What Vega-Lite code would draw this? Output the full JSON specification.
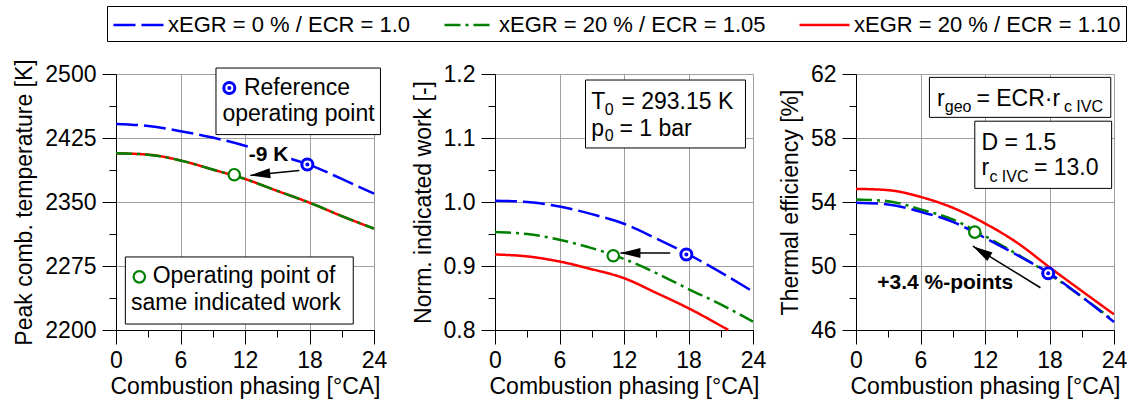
{
  "$schema": "https://vega.github.io/schema/vega-lite/v6.json",
  "padding": {"left": 13, "top": 5, "right": 5, "bottom": 5},
  "config": {
    "view": {"stroke": null},
    "font": "Liberation Sans",
    "axis": {
      "labelFont": "Liberation Sans", "labelFontSize": 23, "labelColor": "black",
      "titleFont": "Liberation Sans", "titleFontSize": 23, "titleFontWeight": "normal", "titleColor": "black",
      "domainColor": "black", "tickColor": "black", "gridColor": "#a0a0a0", "gridWidth": 1,
      "labelFlush": false, "labelOverlap": false, "labelBound": false, "labelPadding": 5, "titlePadding": 3
    },
    "axisY": {"titlePadding": 8, "labelPadding": 6},
    "legend": {
      "orient": "none", "legendX": -9, "legendY": -68, "direction": "horizontal", "columns": 3,
      "labelFont": "Liberation Sans", "labelFontSize": 22, "labelColor": "black", "labelLimit": 400,
      "strokeColor": "black", "padding": 5, "columnPadding": 28, "rowPadding": 0,
      "symbolType": "M-1,0L3,0", "symbolSize": 625, "symbolStrokeWidth": 2.5, "labelOffset": 28
    }
  },
  "datasets": {
    "curves": [
      {"p": 1, "s": "R", "x": 0, "y": 2407}, {"p": 1, "s": "R", "x": 3, "y": 2405.5}, {"p": 1, "s": "R", "x": 6, "y": 2398.7},
      {"p": 1, "s": "R", "x": 9, "y": 2388}, {"p": 1, "s": "R", "x": 12, "y": 2377}, {"p": 1, "s": "R", "x": 15, "y": 2363},
      {"p": 1, "s": "R", "x": 18, "y": 2349.2}, {"p": 1, "s": "R", "x": 21, "y": 2333.5}, {"p": 1, "s": "R", "x": 24, "y": 2318.8},
      {"p": 2, "s": "R", "x": 0, "y": 0.918}, {"p": 2, "s": "R", "x": 3, "y": 0.915}, {"p": 2, "s": "R", "x": 6, "y": 0.907},
      {"p": 2, "s": "R", "x": 9, "y": 0.895}, {"p": 2, "s": "R", "x": 12, "y": 0.881}, {"p": 2, "s": "R", "x": 15, "y": 0.858},
      {"p": 2, "s": "R", "x": 18, "y": 0.834}, {"p": 2, "s": "R", "x": 21.7, "y": 0.8},
      {"p": 3, "s": "R", "x": 0, "y": 54.82}, {"p": 3, "s": "R", "x": 3, "y": 54.74}, {"p": 3, "s": "R", "x": 6, "y": 54.32},
      {"p": 3, "s": "R", "x": 9, "y": 53.64}, {"p": 3, "s": "R", "x": 12, "y": 52.66}, {"p": 3, "s": "R", "x": 15, "y": 51.45},
      {"p": 3, "s": "R", "x": 18, "y": 49.92}, {"p": 3, "s": "R", "x": 21, "y": 48.44}, {"p": 3, "s": "R", "x": 24, "y": 46.98},
      {"p": 1, "s": "G", "x": 0, "y": 2407}, {"p": 1, "s": "G", "x": 3, "y": 2405.5}, {"p": 1, "s": "G", "x": 6, "y": 2398.7},
      {"p": 1, "s": "G", "x": 9, "y": 2388}, {"p": 1, "s": "G", "x": 12, "y": 2377}, {"p": 1, "s": "G", "x": 15, "y": 2363},
      {"p": 1, "s": "G", "x": 18, "y": 2349.2}, {"p": 1, "s": "G", "x": 21, "y": 2333.5}, {"p": 1, "s": "G", "x": 24, "y": 2318.8},
      {"p": 2, "s": "G", "x": 0, "y": 0.953}, {"p": 2, "s": "G", "x": 3, "y": 0.95}, {"p": 2, "s": "G", "x": 6, "y": 0.941},
      {"p": 2, "s": "G", "x": 9, "y": 0.928}, {"p": 2, "s": "G", "x": 12, "y": 0.911}, {"p": 2, "s": "G", "x": 15, "y": 0.889},
      {"p": 2, "s": "G", "x": 18, "y": 0.864}, {"p": 2, "s": "G", "x": 21, "y": 0.84}, {"p": 2, "s": "G", "x": 24, "y": 0.813},
      {"p": 3, "s": "G", "x": 0, "y": 54.16}, {"p": 3, "s": "G", "x": 3, "y": 54.05}, {"p": 3, "s": "G", "x": 6, "y": 53.54},
      {"p": 3, "s": "G", "x": 9, "y": 52.91}, {"p": 3, "s": "G", "x": 12, "y": 51.87}, {"p": 3, "s": "G", "x": 15, "y": 50.73},
      {"p": 3, "s": "G", "x": 18, "y": 49.48}, {"p": 3, "s": "G", "x": 21, "y": 48.08}, {"p": 3, "s": "G", "x": 24, "y": 46.56},
      {"p": 1, "s": "B", "x": 0, "y": 2441.5}, {"p": 1, "s": "B", "x": 3, "y": 2439}, {"p": 1, "s": "B", "x": 6, "y": 2433},
      {"p": 1, "s": "B", "x": 9, "y": 2425.5}, {"p": 1, "s": "B", "x": 12, "y": 2416}, {"p": 1, "s": "B", "x": 15, "y": 2405},
      {"p": 1, "s": "B", "x": 18, "y": 2393.5}, {"p": 1, "s": "B", "x": 21, "y": 2377}, {"p": 1, "s": "B", "x": 24, "y": 2359.7},
      {"p": 2, "s": "B", "x": 0, "y": 1.002}, {"p": 2, "s": "B", "x": 3, "y": 1.0}, {"p": 2, "s": "B", "x": 6, "y": 0.993},
      {"p": 2, "s": "B", "x": 9, "y": 0.981}, {"p": 2, "s": "B", "x": 12, "y": 0.966}, {"p": 2, "s": "B", "x": 15, "y": 0.943},
      {"p": 2, "s": "B", "x": 18, "y": 0.918}, {"p": 2, "s": "B", "x": 21, "y": 0.89}, {"p": 2, "s": "B", "x": 24, "y": 0.86},
      {"p": 3, "s": "B", "x": 0, "y": 53.95}, {"p": 3, "s": "B", "x": 3, "y": 53.85}, {"p": 3, "s": "B", "x": 6, "y": 53.39},
      {"p": 3, "s": "B", "x": 9, "y": 52.76}, {"p": 3, "s": "B", "x": 12, "y": 51.76}, {"p": 3, "s": "B", "x": 15, "y": 50.68},
      {"p": 3, "s": "B", "x": 18, "y": 49.54}, {"p": 3, "s": "B", "x": 21, "y": 48.08}, {"p": 3, "s": "B", "x": 24, "y": 46.5}
    ],
    "points": [
      {"p": 1, "k": "ref", "x": 17.8, "y": 2394}, {"p": 1, "k": "op", "x": 11.0, "y": 2382},
      {"p": 1, "k": "ref", "x": 10.54, "y": 2483.6}, {"p": 1, "k": "op", "x": 2.17, "y": 2262.3},
      {"p": 2, "k": "ref", "x": 17.8, "y": 0.918}, {"p": 2, "k": "op", "x": 11.0, "y": 0.916},
      {"p": 3, "k": "ref", "x": 17.88, "y": 49.54}, {"p": 3, "k": "op", "x": 11.05, "y": 52.12}
    ],
    "boxes": [
      {"p": 1, "k": "box", "x": 9.3, "x2": 24.6, "y": 2507, "y2": 2429},
      {"p": 1, "k": "box", "x": 0.87, "x2": 22.07, "y": 2285.6, "y2": 2207},
      {"p": 1, "k": "bg", "x": 12.3, "x2": 16.3, "y": 2415, "y2": 2396},
      {"p": 2, "k": "box", "x": 8.42, "x2": 23.3, "y": 1.1906, "y2": 1.0844},
      {"p": 3, "k": "box", "x": 6.83, "x2": 23.7, "y": 61.79, "y2": 59.29},
      {"p": 3, "k": "box", "x": 11.05, "x2": 23.78, "y": 59.05, "y2": 54.85}
    ],
    "arrows": [
      {"p": 1, "x": 17.05, "y": 2387, "x2": 12.49, "y2": 2381.2},
      {"p": 2, "x": 16.3, "y": 0.9203, "x2": 11.67, "y2": 0.9203},
      {"p": 3, "x": 17.16, "y": 48.64, "x2": 10.87, "y2": 51.24}
    ],
    "texts": [
      {"p": 1, "k": "n", "x": 11.9, "y": 2475.1, "t": "Reference"},
      {"p": 1, "k": "n", "x": 9.9, "y": 2444.7, "t": "operating point"},
      {"p": 1, "k": "n", "x": 3.41, "y": 2254.5, "t": "Operating point of"},
      {"p": 1, "k": "n", "x": 1.4, "y": 2223.4, "t": "same indicated work"},
      {"p": 1, "k": "b", "x": 14.2, "y": 2397.9, "t": "-9 K"},
      {"p": 2, "k": "n", "x": 8.95, "y": 1.145, "t": "T"},
      {"p": 2, "k": "s", "x": 10.22, "y": 1.1364, "t": "0"},
      {"p": 2, "k": "n", "x": 11.76, "y": 1.145, "t": "= 293.15 K"},
      {"p": 2, "k": "n", "x": 8.95, "y": 1.1036, "t": "p"},
      {"p": 2, "k": "s", "x": 10.22, "y": 1.0947, "t": "0"},
      {"p": 2, "k": "n", "x": 11.57, "y": 1.1036, "t": "= 1 bar"},
      {"p": 3, "k": "n", "x": 7.54, "y": 59.98, "t": "r"},
      {"p": 3, "k": "s", "x": 8.26, "y": 59.61, "t": "geo"},
      {"p": 3, "k": "n", "x": 11.2, "y": 59.98, "t": "= ECR·r"},
      {"p": 3, "k": "s", "x": 19.34, "y": 59.61, "t": "c IVC"},
      {"p": 3, "k": "n", "x": 11.67, "y": 57.22, "t": "D = 1.5"},
      {"p": 3, "k": "n", "x": 11.67, "y": 55.68, "t": "r"},
      {"p": 3, "k": "s", "x": 12.41, "y": 55.26, "t": "c IVC"},
      {"p": 3, "k": "n", "x": 16.55, "y": 55.68, "t": "= 13.0"},
      {"p": 3, "k": "b", "x": 8.3, "y": 48.54, "t": "+3.4 %-points"}
    ]
  },
  "resolve": {"scale": {"color": "shared", "strokeDash": "shared"}, "legend": {"color": "shared", "strokeDash": "shared"}},
  "spacing": 25,
  "hconcat": [
    {
      "width": 258, "height": 256,
      "encoding": {
        "x": {"field": "x", "type": "quantitative", "scale": {"domain": [0, 24], "nice": false, "zero": false},
          "axis": {"title": "Combustion phasing [°CA]", "values": [0, 3, 6, 9, 12, 15, 18, 21, 24],
            "labelExpr": "datum.value % 6 == 0 ? datum.label : ''",
            "gridOpacity": {"condition": {"test": "datum.value % 6 != 0", "value": 0}, "value": 1},
            "tickSize": {"condition": {"test": "datum.value % 6 != 0", "value": 7}, "value": 14}}},
        "y": {"field": "y", "type": "quantitative", "scale": {"domain": [2200, 2500], "nice": false, "zero": false},
          "axis": {"title": "Peak comb. temperature [K]", "format": "d", "values": [2200, 2237.5, 2275, 2312.5, 2350, 2387.5, 2425, 2462.5, 2500],
            "labelExpr": "(datum.value - 2200) % 75 == 0 ? datum.label : ''",
            "gridOpacity": {"condition": {"test": "(datum.value - 2200) % 75 != 0", "value": 0}, "value": 1},
            "tickSize": {"condition": {"test": "(datum.value - 2200) % 75 != 0", "value": 7}, "value": 14}}}
      },
      "layer": [
        {"data": {"name": "boxes"}, "transform": [{"filter": "datum.p == 1 && datum.k == 'box'"}],
          "mark": {"type": "rect", "fill": "white", "stroke": "black", "strokeWidth": 1},
          "encoding": {"x2": {"field": "x2"}, "y2": {"field": "y2"}}},
        {"data": {"name": "curves"}, "transform": [{"filter": "datum.p == 1"}],
          "mark": {"type": "line", "strokeWidth": 2.5, "interpolate": "monotone"},
          "encoding": {
            "color": {"field": "s", "type": "nominal", "title": null, "scale": {"domain": ["B", "G", "R"], "range": ["#0000ff", "#008000", "#ff0000"]},
              "legend": {"labelExpr": "datum.value == 'B' ? 'xEGR = 0 % / ECR = 1.0' : datum.value == 'G' ? 'xEGR = 20 % / ECR = 1.05' : 'xEGR = 20 % / ECR = 1.10'"}},
            "strokeDash": {"field": "s", "type": "nominal", "title": null, "scale": {"domain": ["B", "G", "R"], "range": [[22, 6], [16, 5, 3, 5], [1, 0]]},
              "legend": {"labelExpr": "datum.value == 'B' ? 'xEGR = 0 % / ECR = 1.0' : datum.value == 'G' ? 'xEGR = 20 % / ECR = 1.05' : 'xEGR = 20 % / ECR = 1.10'"}}
          }},
        {"data": {"name": "boxes"}, "transform": [{"filter": "datum.p == 1 && datum.k == 'bg'"}],
          "mark": {"type": "rect", "fill": "white", "strokeWidth": 0},
          "encoding": {"x2": {"field": "x2"}, "y2": {"field": "y2"}}},
        {"data": {"name": "arrows"}, "transform": [{"filter": "datum.p == 1"}],
          "mark": {"type": "rule", "color": "black", "strokeWidth": 1.5},
          "encoding": {"x2": {"field": "x2"}, "y2": {"field": "y2"}}},
        {"data": {"name": "arrows"}, "transform": [{"filter": "datum.p == 1"}],
          "mark": {"type": "point", "shape": "M0,0L2,-0.5L2,0.5Z", "size": 400, "filled": true, "fill": "black", "strokeWidth": 0, "opacity": 1, "angle": 353.7},
          "encoding": {"x": {"field": "x2", "type": "quantitative"}, "y": {"field": "y2", "type": "quantitative"}}},
        {"data": {"name": "points"}, "transform": [{"filter": "datum.p == 1 && datum.k == 'op'"}],
          "mark": {"type": "point", "shape": "circle", "size": 130, "filled": true, "fill": "white", "stroke": "#008000", "strokeWidth": 2.2, "opacity": 1},
          "encoding": {}},
        {"data": {"name": "points"}, "transform": [{"filter": "datum.p == 1 && datum.k == 'ref'"}],
          "mark": {"type": "point", "shape": "circle", "size": 121, "filled": true, "fill": "white", "stroke": "#0000ff", "strokeWidth": 3, "opacity": 1},
          "encoding": {}},
        {"data": {"name": "points"}, "transform": [{"filter": "datum.p == 1 && datum.k == 'ref'"}],
          "mark": {"type": "point", "shape": "circle", "size": 16, "filled": true, "fill": "#0000ff", "strokeWidth": 0, "opacity": 1},
          "encoding": {}},
        {"data": {"name": "texts"}, "transform": [{"filter": "datum.p == 1 && datum.k == 'n'"}],
          "mark": {"type": "text", "font": "Liberation Sans", "fontSize": 23, "align": "left", "baseline": "alphabetic", "color": "black"},
          "encoding": {"text": {"field": "t"}}},
        {"data": {"name": "texts"}, "transform": [{"filter": "datum.p == 1 && datum.k == 'b'"}],
          "mark": {"type": "text", "font": "Liberation Sans", "fontSize": 21, "fontWeight": "bold", "align": "center", "baseline": "alphabetic", "color": "black"},
          "encoding": {"text": {"field": "t"}}}
      ]
    },
    {
      "spacing": 13,
      "resolve": {"scale": {"color": "shared", "strokeDash": "shared"}, "legend": {"color": "shared", "strokeDash": "shared"}},
      "hconcat": [
        {
          "width": 258, "height": 256,
          "encoding": {
            "x": {"field": "x", "type": "quantitative", "scale": {"domain": [0, 24], "nice": false, "zero": false},
              "axis": {"title": "Combustion phasing [°CA]", "values": [0, 3, 6, 9, 12, 15, 18, 21, 24],
                "labelExpr": "datum.value % 6 == 0 ? datum.label : ''",
                "gridOpacity": {"condition": {"test": "datum.value % 6 != 0", "value": 0}, "value": 1},
                "tickSize": {"condition": {"test": "datum.value % 6 != 0", "value": 7}, "value": 14}}},
            "y": {"field": "y", "type": "quantitative", "scale": {"domain": [0.8, 1.2], "nice": false, "zero": false},
              "axis": {"title": "Norm. indicated work [-]", "format": ".1f", "values": [0.8, 0.85, 0.9, 0.95, 1.0, 1.05, 1.1, 1.15, 1.2],
                "labelExpr": "abs(datum.value * 10 - round(datum.value * 10)) < 0.01 ? datum.label : ''",
                "gridOpacity": {"condition": {"test": "abs(datum.value * 10 - round(datum.value * 10)) > 0.01", "value": 0}, "value": 1},
                "tickSize": {"condition": {"test": "abs(datum.value * 10 - round(datum.value * 10)) > 0.01", "value": 7}, "value": 14}}}
          },
          "layer": [
            {"data": {"name": "boxes"}, "transform": [{"filter": "datum.p == 2 && datum.k == 'box'"}],
              "mark": {"type": "rect", "fill": "white", "stroke": "black", "strokeWidth": 1},
              "encoding": {"x2": {"field": "x2"}, "y2": {"field": "y2"}}},
            {"data": {"name": "curves"}, "transform": [{"filter": "datum.p == 2"}],
              "mark": {"type": "line", "strokeWidth": 2.5, "interpolate": "monotone"},
              "encoding": {
                "color": {"field": "s", "type": "nominal", "title": null, "scale": {"domain": ["B", "G", "R"], "range": ["#0000ff", "#008000", "#ff0000"]},
                  "legend": {"labelExpr": "datum.value == 'B' ? 'xEGR = 0 % / ECR = 1.0' : datum.value == 'G' ? 'xEGR = 20 % / ECR = 1.05' : 'xEGR = 20 % / ECR = 1.10'"}},
                "strokeDash": {"field": "s", "type": "nominal", "title": null, "scale": {"domain": ["B", "G", "R"], "range": [[22, 6], [16, 5, 3, 5], [1, 0]]},
                  "legend": {"labelExpr": "datum.value == 'B' ? 'xEGR = 0 % / ECR = 1.0' : datum.value == 'G' ? 'xEGR = 20 % / ECR = 1.05' : 'xEGR = 20 % / ECR = 1.10'"}}
              }},
            {"data": {"name": "arrows"}, "transform": [{"filter": "datum.p == 2"}],
              "mark": {"type": "rule", "color": "black", "strokeWidth": 1.5},
              "encoding": {"x2": {"field": "x2"}, "y2": {"field": "y2"}}},
            {"data": {"name": "arrows"}, "transform": [{"filter": "datum.p == 2"}],
              "mark": {"type": "point", "shape": "M0,0L2,-0.5L2,0.5Z", "size": 400, "filled": true, "fill": "black", "strokeWidth": 0, "opacity": 1, "angle": 0},
              "encoding": {"x": {"field": "x2", "type": "quantitative"}, "y": {"field": "y2", "type": "quantitative"}}},
            {"data": {"name": "points"}, "transform": [{"filter": "datum.p == 2 && datum.k == 'op'"}],
              "mark": {"type": "point", "shape": "circle", "size": 130, "filled": true, "fill": "white", "stroke": "#008000", "strokeWidth": 2.2, "opacity": 1},
              "encoding": {}},
            {"data": {"name": "points"}, "transform": [{"filter": "datum.p == 2 && datum.k == 'ref'"}],
              "mark": {"type": "point", "shape": "circle", "size": 121, "filled": true, "fill": "white", "stroke": "#0000ff", "strokeWidth": 3, "opacity": 1},
              "encoding": {}},
            {"data": {"name": "points"}, "transform": [{"filter": "datum.p == 2 && datum.k == 'ref'"}],
              "mark": {"type": "point", "shape": "circle", "size": 16, "filled": true, "fill": "#0000ff", "strokeWidth": 0, "opacity": 1},
              "encoding": {}},
            {"data": {"name": "texts"}, "transform": [{"filter": "datum.p == 2 && datum.k == 'n'"}],
              "mark": {"type": "text", "font": "Liberation Sans", "fontSize": 23, "align": "left", "baseline": "alphabetic", "color": "black"},
              "encoding": {"text": {"field": "t"}}},
            {"data": {"name": "texts"}, "transform": [{"filter": "datum.p == 2 && datum.k == 's'"}],
              "mark": {"type": "text", "font": "Liberation Sans", "fontSize": 16, "align": "left", "baseline": "alphabetic", "color": "black"},
              "encoding": {"text": {"field": "t"}}}
          ]
        },
        {
          "width": 258, "height": 256,
          "encoding": {
            "x": {"field": "x", "type": "quantitative", "scale": {"domain": [0, 24], "nice": false, "zero": false},
              "axis": {"title": "Combustion phasing [°CA]", "values": [0, 3, 6, 9, 12, 15, 18, 21, 24],
                "labelExpr": "datum.value % 6 == 0 ? datum.label : ''",
                "gridOpacity": {"condition": {"test": "datum.value % 6 != 0", "value": 0}, "value": 1},
                "tickSize": {"condition": {"test": "datum.value % 6 != 0", "value": 7}, "value": 14}}},
            "y": {"field": "y", "type": "quantitative", "scale": {"domain": [46, 62], "nice": false, "zero": false},
              "axis": {"title": "Thermal efficiency [%]", "format": "d", "values": [46, 48, 50, 52, 54, 56, 58, 60, 62],
                "labelExpr": "datum.value % 4 == 2 ? datum.label : ''",
                "gridOpacity": {"condition": {"test": "datum.value % 4 != 2", "value": 0}, "value": 1},
                "tickSize": {"condition": {"test": "datum.value % 4 != 2", "value": 7}, "value": 14}}}
          },
          "layer": [
            {"data": {"name": "boxes"}, "transform": [{"filter": "datum.p == 3 && datum.k == 'box'"}],
              "mark": {"type": "rect", "fill": "white", "stroke": "black", "strokeWidth": 1},
              "encoding": {"x2": {"field": "x2"}, "y2": {"field": "y2"}}},
            {"data": {"name": "curves"}, "transform": [{"filter": "datum.p == 3"}],
              "mark": {"type": "line", "strokeWidth": 2.5, "interpolate": "monotone"},
              "encoding": {
                "color": {"field": "s", "type": "nominal", "title": null, "scale": {"domain": ["B", "G", "R"], "range": ["#0000ff", "#008000", "#ff0000"]},
                  "legend": {"labelExpr": "datum.value == 'B' ? 'xEGR = 0 % / ECR = 1.0' : datum.value == 'G' ? 'xEGR = 20 % / ECR = 1.05' : 'xEGR = 20 % / ECR = 1.10'"}},
                "strokeDash": {"field": "s", "type": "nominal", "title": null, "scale": {"domain": ["B", "G", "R"], "range": [[22, 6], [16, 5, 3, 5], [1, 0]]},
                  "legend": {"labelExpr": "datum.value == 'B' ? 'xEGR = 0 % / ECR = 1.0' : datum.value == 'G' ? 'xEGR = 20 % / ECR = 1.05' : 'xEGR = 20 % / ECR = 1.10'"}}
              }},
            {"data": {"name": "arrows"}, "transform": [{"filter": "datum.p == 3"}],
              "mark": {"type": "rule", "color": "black", "strokeWidth": 1.5},
              "encoding": {"x2": {"field": "x2"}, "y2": {"field": "y2"}}},
            {"data": {"name": "arrows"}, "transform": [{"filter": "datum.p == 3"}],
              "mark": {"type": "point", "shape": "M0,0L2,-0.5L2,0.5Z", "size": 400, "filled": true, "fill": "black", "strokeWidth": 0, "opacity": 1, "angle": 31.6},
              "encoding": {"x": {"field": "x2", "type": "quantitative"}, "y": {"field": "y2", "type": "quantitative"}}},
            {"data": {"name": "points"}, "transform": [{"filter": "datum.p == 3 && datum.k == 'op'"}],
              "mark": {"type": "point", "shape": "circle", "size": 130, "filled": true, "fill": "white", "stroke": "#008000", "strokeWidth": 2.2, "opacity": 1},
              "encoding": {}},
            {"data": {"name": "points"}, "transform": [{"filter": "datum.p == 3 && datum.k == 'ref'"}],
              "mark": {"type": "point", "shape": "circle", "size": 121, "filled": true, "fill": "white", "stroke": "#0000ff", "strokeWidth": 3, "opacity": 1},
              "encoding": {}},
            {"data": {"name": "points"}, "transform": [{"filter": "datum.p == 3 && datum.k == 'ref'"}],
              "mark": {"type": "point", "shape": "circle", "size": 16, "filled": true, "fill": "#0000ff", "strokeWidth": 0, "opacity": 1},
              "encoding": {}},
            {"data": {"name": "texts"}, "transform": [{"filter": "datum.p == 3 && datum.k == 'n'"}],
              "mark": {"type": "text", "font": "Liberation Sans", "fontSize": 23, "align": "left", "baseline": "alphabetic", "color": "black"},
              "encoding": {"text": {"field": "t"}}},
            {"data": {"name": "texts"}, "transform": [{"filter": "datum.p == 3 && datum.k == 's'"}],
              "mark": {"type": "text", "font": "Liberation Sans", "fontSize": 16, "align": "left", "baseline": "alphabetic", "color": "black"},
              "encoding": {"text": {"field": "t"}}},
            {"data": {"name": "texts"}, "transform": [{"filter": "datum.p == 3 && datum.k == 'b'"}],
              "mark": {"type": "text", "font": "Liberation Sans", "fontSize": 21, "fontWeight": "bold", "align": "center", "baseline": "alphabetic", "color": "black"},
              "encoding": {"text": {"field": "t"}}}
          ]
        }
      ]
    }
  ]
}
